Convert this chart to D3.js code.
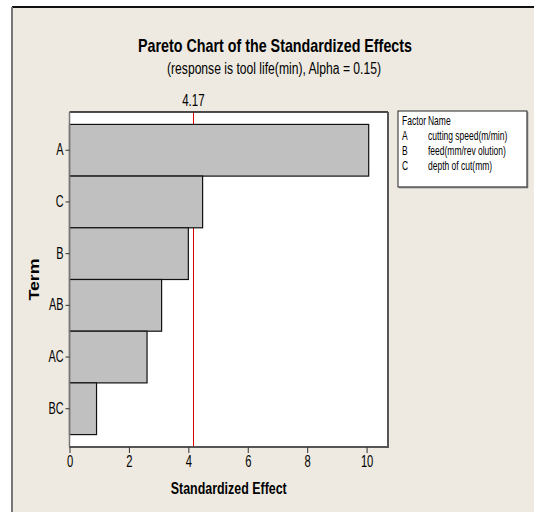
<!DOCTYPE html>
<html>
<head>
<meta charset="utf-8">
<script src="https://cdn.jsdelivr.net/npm/d3@7"></script>
<style>
  html, body { margin: 0; padding: 0; background: #ffffff; }
  svg { display: block; }
  text { font-family: "Liberation Sans", Arial, sans-serif; fill: #000; }
</style>
</head>
<body>
<script>
// Pareto chart of standardized effects (response: tool life)
const terms = ["A", "C", "B", "AB", "AC", "BC"];
const effects = [10.07, 4.48, 4.00, 3.10, 2.61, 0.91];
const xTickValues = [0, 2, 4, 6, 8, 10];
const criticalValue = 4.17;
const legendFactors = ["A", "B", "C"];
const legendNames = ["cutting speed(m/min)", "feed(mm/rev olution)", "depth of cut(mm)"];

const W = 534, H = 512;
const plot = { left: 69.5, right: 388, top: 112, bottom: 447 };

// squeeze text horizontally around its own anchor point (narrow face look)
function condense(sel, sx) {
  sel.each(function () {
    const t = d3.select(this);
    const xv = +t.attr("x") || 0;
    t.attr("x", xv / sx).attr("transform", `scale(${sx},1)`);
  });
}

const svg = d3.select("body").append("svg").attr("width", W).attr("height", H);

// outer graph frame
svg.append("rect").attr("x", 12).attr("y", 7).attr("width", W).attr("height", H)
  .attr("fill", "#eeeae1");
svg.append("line").attr("x1", 12).attr("x2", W).attr("y1", 7).attr("y2", 7)
  .attr("stroke", "#111").attr("stroke-width", 2);
svg.append("line").attr("x1", 12).attr("x2", 12).attr("y1", 7).attr("y2", H)
  .attr("stroke", "#777").attr("stroke-width", 2);

// titles
svg.append("text").attr("x", 275).attr("y", 51.5).attr("text-anchor", "middle")
  .attr("font-size", 18.5).attr("font-weight", "bold")
  .attr("textLength", 274).attr("lengthAdjust", "spacingAndGlyphs")
  .text("Pareto Chart of the Standardized Effects");
svg.append("text").attr("x", 274).attr("y", 73.5).attr("text-anchor", "middle")
  .attr("font-size", 16)
  .attr("textLength", 214).attr("lengthAdjust", "spacingAndGlyphs")
  .text("(response is tool life(min), Alpha = 0.15)");

const x = d3.scaleLinear().domain([0, 10.72]).range([plot.left, plot.right]);
const y = d3.scaleBand().domain(terms).range([plot.top, plot.bottom])
  .paddingInner(0).paddingOuter(0.24);

// plot area
svg.append("rect").attr("x", plot.left).attr("y", plot.top)
  .attr("width", plot.right - plot.left).attr("height", plot.bottom - plot.top)
  .attr("fill", "#ffffff");

// reference line at the critical value
const xCrit = Math.round(x(criticalValue)) + 0.5;
svg.append("line").attr("x1", xCrit).attr("x2", xCrit)
  .attr("y1", plot.top).attr("y2", plot.bottom)
  .attr("stroke", "#e00000").attr("stroke-width", 1);
svg.append("text").attr("x", x(criticalValue)).attr("y", 106).attr("text-anchor", "middle")
  .attr("font-size", 16).text(criticalValue.toFixed(2))
  .call(condense, 0.72);

// bars
const data = terms.map((t, i) => ({ term: t, value: effects[i] }));
svg.append("g").selectAll("rect").data(data).join("rect")
  .attr("x", x(0))
  .attr("y", d => y(d.term))
  .attr("width", d => x(d.value) - x(0))
  .attr("height", y.bandwidth())
  .attr("fill", "#c0c0c0")
  .attr("stroke", "#111").attr("stroke-width", 1.2);

// plot border drawn over the bars
svg.append("line").attr("x1", plot.left).attr("x2", plot.right).attr("y1", plot.top).attr("y2", plot.top)
  .attr("stroke", "#111").attr("stroke-width", 1.5);
svg.append("line").attr("x1", plot.left).attr("x2", plot.left).attr("y1", plot.top).attr("y2", plot.bottom)
  .attr("stroke", "#777").attr("stroke-width", 1.5);
svg.append("line").attr("x1", plot.right).attr("x2", plot.right).attr("y1", plot.top).attr("y2", plot.bottom)
  .attr("stroke", "#555").attr("stroke-width", 2);
svg.append("line").attr("x1", plot.left).attr("x2", plot.right + 1).attr("y1", plot.bottom).attr("y2", plot.bottom)
  .attr("stroke", "#555").attr("stroke-width", 2);

// axes
const yAxis = svg.append("g").attr("transform", `translate(${plot.left},0)`)
  .call(d3.axisLeft(y).tickSize(4).tickPadding(2));
yAxis.select(".domain").remove();
yAxis.selectAll(".tick line").attr("stroke", "#333");
yAxis.selectAll(".tick text").attr("font-size", 16).attr("font-family", null)
  .call(condense, 0.68);

const xAxis = svg.append("g").attr("transform", `translate(0,${plot.bottom})`)
  .call(d3.axisBottom(x).tickValues(xTickValues).tickSize(6).tickPadding(3));
xAxis.select(".domain").remove();
xAxis.selectAll(".tick line").attr("stroke", "#333");
xAxis.selectAll(".tick text").attr("font-size", 16).attr("font-family", null)
  .call(condense, 0.7);

// axis titles
svg.append("text").attr("x", (plot.left + plot.right) / 2).attr("y", 494).attr("text-anchor", "middle")
  .attr("font-size", 16.5).attr("font-weight", "bold")
  .attr("textLength", 116).attr("lengthAdjust", "spacingAndGlyphs")
  .text("Standardized Effect");
svg.append("text").attr("transform", `translate(38.5,${(plot.top + plot.bottom) / 2}) rotate(-90)`)
  .attr("text-anchor", "middle")
  .attr("font-size", 15).attr("font-weight", "bold")
  .attr("textLength", 42).attr("lengthAdjust", "spacingAndGlyphs")
  .text("Term");

// factor legend
const lg = { x: 398, y: 111, w: 129, h: 76 };
svg.append("rect").attr("x", lg.x).attr("y", lg.y).attr("width", lg.w).attr("height", lg.h)
  .attr("fill", "#ffffff").attr("stroke", "#222").attr("stroke-width", 1);
svg.append("line").attr("x1", lg.x + lg.w + 0.5).attr("x2", lg.x + lg.w + 0.5)
  .attr("y1", lg.y + 1).attr("y2", lg.y + lg.h + 1).attr("stroke", "#666").attr("stroke-width", 1.5);
svg.append("line").attr("x1", lg.x + 1).attr("x2", lg.x + lg.w + 1)
  .attr("y1", lg.y + lg.h + 0.5).attr("y2", lg.y + lg.h + 0.5).attr("stroke", "#666").attr("stroke-width", 1.5);

const col1 = lg.x + 4, col2 = lg.x + 30, row0 = lg.y + 14.5, rowStep = 15, legendSize = 12.5, legendSx = 0.68;
const legendTexts = svg.append("g");
legendTexts.append("text").attr("x", col1).attr("y", row0).text("Factor");
legendTexts.append("text").attr("x", col2).attr("y", row0).text("Name");
legendFactors.forEach((f, i) => {
  legendTexts.append("text").attr("x", col1).attr("y", row0 + rowStep * (i + 1)).text(f);
  legendTexts.append("text").attr("x", col2).attr("y", row0 + rowStep * (i + 1)).text(legendNames[i]);
});
legendTexts.selectAll("text").attr("font-size", legendSize).call(condense, legendSx);
</script>
</body>
</html>
